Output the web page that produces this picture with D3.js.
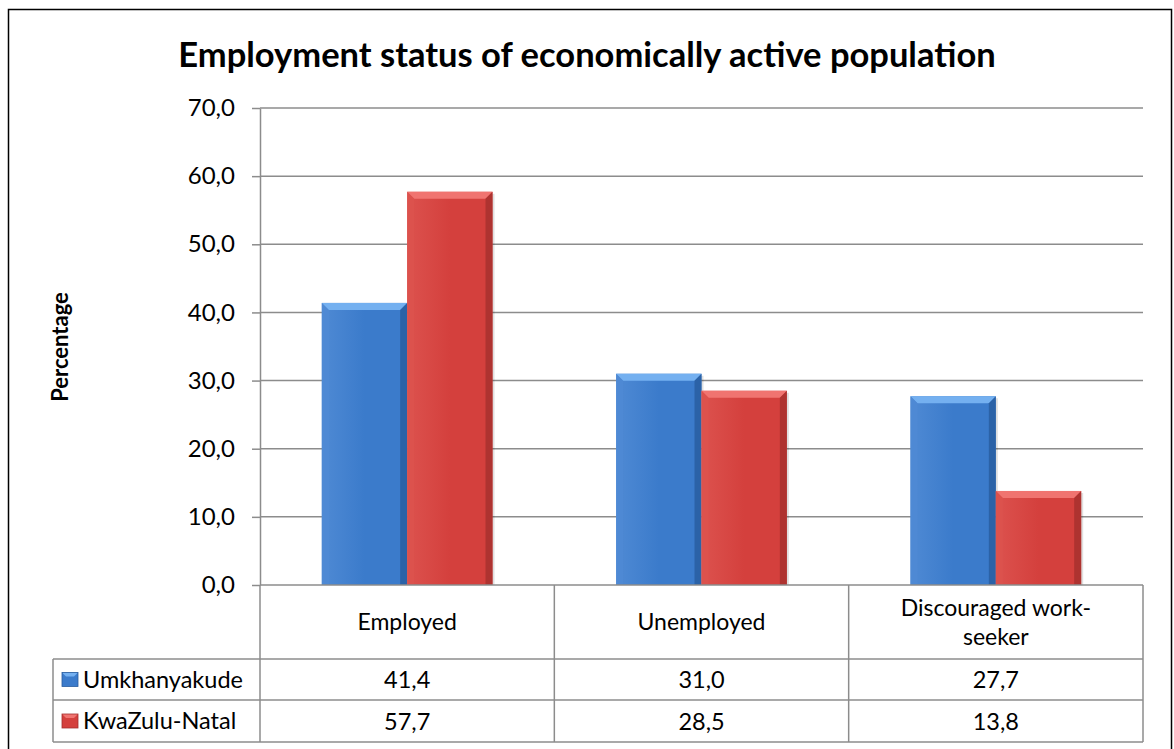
<!DOCTYPE html>
<html>
<head>
<meta charset="utf-8">
<script src="https://cdn.jsdelivr.net/npm/d3@7"></script>
<style>
  body { margin: 0; background: #fff; }
  svg { display: block; font-family: Lato, "Open Sans", sans-serif; }
</style>
</head>
<body>
<div id="chart"></div>
<script>
const categories = ["Employed", "Unemployed", "Discouraged work-seeker"];
const categoryLines = [["Employed"], ["Unemployed"], ["Discouraged work-", "seeker"]];
const seriesNames = ["Umkhanyakude", "KwaZulu-Natal"];
const umkhanyakude = [41.4, 31.0, 27.7];
const kwazuluNatal = [57.7, 28.5, 13.8];
const yTicks = [0, 10, 20, 30, 40, 50, 60, 70];
const titleText = "Employment status of economically active population";
const yAxisTitle = "Percentage";

function initChart() {
  const width = 1174, height = 749;
  const m = { t: 108, r: 31, b: 164, l: 260 };
  const plotBottom = height - m.b;   // 585
  const tableRows = [plotBottom, 659, 700, 742];
  const legendLeft = 53;

  const svg = d3.select("#chart").append("svg")
    .attr("width", width).attr("height", height);

  const defs = svg.append("defs");
  const palette = [
    { main: "#3b7bcb", light: "#74b0f0", dark: "#285c9e", side: "#4f8ad4" },
    { main: "#d4403d", light: "#f07470", dark: "#a42f2d", side: "#dc524e" }
  ];
  palette.forEach((p, i) => {
    const g = defs.append("linearGradient").attr("id", "grad" + i)
      .attr("x1", 0).attr("x2", 1).attr("y1", 0).attr("y2", 0);
    g.append("stop").attr("offset", "0%").attr("stop-color", p.side);
    g.append("stop").attr("offset", "50%").attr("stop-color", p.main);
    g.append("stop").attr("offset", "100%").attr("stop-color", p.main);
  });

  // outer frame
  svg.append("rect")
    .attr("x", 8.5).attr("y", 9.5)
    .attr("width", 1163).attr("height", 760)
    .attr("fill", "none").attr("stroke", "#000").attr("stroke-width", 1.5);

  // title
  svg.append("text")
    .attr("x", 587).attr("y", 67)
    .attr("text-anchor", "middle")
    .attr("font-size", "34.5px").attr("font-weight", "bold")
    .attr("fill", "#000")
    .text(titleText);

  const x0 = d3.scaleBand().domain(categories).range([m.l, width - m.r]);
  const groupW = x0.bandwidth() * 0.58;
  const x1 = d3.scaleBand().domain(seriesNames)
    .range([(x0.bandwidth() - groupW) / 2, (x0.bandwidth() + groupW) / 2]);
  const y = d3.scaleLinear().domain([0, 70]).range([plotBottom, m.t]);

  // gridlines
  svg.append("g").selectAll("line")
    .data(yTicks.filter(d => d > 0))
    .enter().append("line")
    .attr("x1", m.l).attr("x2", width - m.r)
    .attr("y1", d => y(d)).attr("y2", d => y(d))
    .attr("stroke", "#8c8c8c").attr("stroke-width", 1.5);

  // y axis
  const fmt = d => d3.format(".1f")(d).replace(".", ",");
  const yAxis = svg.append("g")
    .attr("transform", `translate(${m.l},0)`)
    .call(d3.axisLeft(y).tickValues(yTicks).tickFormat(fmt).tickSize(8).tickSizeOuter(0));
  yAxis.select(".domain").attr("stroke", "#8c8c8c").attr("stroke-width", 1.5);
  yAxis.selectAll(".tick line").attr("stroke", "#8c8c8c").attr("stroke-width", 1.5);
  yAxis.selectAll(".tick text")
    .attr("x", -25).attr("font-size", "24px").attr("fill", "#000")
    .attr("font-family", "Lato, sans-serif");

  svg.append("text")
    .attr("transform", `translate(68,347) rotate(-90)`)
    .attr("text-anchor", "middle")
    .attr("font-size", "22px").attr("font-weight", "bold")
    .text(yAxisTitle);

  // bars
  const seriesValues = [umkhanyakude, kwazuluNatal];
  const bev = 7;
  const barData = [];
  categories.forEach((c, ci) => {
    seriesNames.forEach((s, si) => {
      barData.push({ c, s, si, v: seriesValues[si][ci] });
    });
  });

  const bars = svg.append("g").selectAll("g.bar")
    .data(barData).enter().append("g").attr("class", "bar");

  bars.append("rect")
    .attr("x", d => x0(d.c) + x1(d.s) + 2)
    .attr("y", d => y(d.v) + 2)
    .attr("width", x1.bandwidth())
    .attr("height", d => plotBottom - y(d.v) - 2)
    .attr("fill", "#000").attr("opacity", 0.12);

  bars.append("rect")
    .attr("x", d => x0(d.c) + x1(d.s))
    .attr("y", d => y(d.v))
    .attr("width", x1.bandwidth())
    .attr("height", d => plotBottom - y(d.v))
    .attr("fill", d => `url(#grad${d.si})`);

  // top bevel
  bars.append("polygon")
    .attr("points", d => {
      const xl = x0(d.c) + x1(d.s), xr = xl + x1.bandwidth(), yt = y(d.v);
      return [[xl, yt], [xr, yt], [xr - bev, yt + bev], [xl + bev, yt + bev]].join(" ");
    })
    .attr("fill", d => palette[d.si].light);

  // right bevel
  bars.append("polygon")
    .attr("points", d => {
      const xl = x0(d.c) + x1(d.s), xr = xl + x1.bandwidth(), yt = y(d.v);
      return [[xr, yt], [xr, plotBottom], [xr - bev, plotBottom], [xr - bev, yt + bev]].join(" ");
    })
    .attr("fill", d => palette[d.si].dark).attr("opacity", 0.8);

  // left bevel
  bars.append("polygon")
    .attr("points", d => {
      const xl = x0(d.c) + x1(d.s), yt = y(d.v);
      return [[xl, yt], [xl + bev, yt + bev], [xl + bev, plotBottom], [xl, plotBottom]].join(" ");
    })
    .attr("fill", d => palette[d.si].side).attr("opacity", 0.9);

  // data table
  const tbl = svg.append("g").attr("stroke", "#8c8c8c").attr("stroke-width", 1.5);
  const tableRight = width - m.r;
  tbl.append("line").attr("x1", m.l).attr("x2", tableRight)
    .attr("y1", tableRows[0]).attr("y2", tableRows[0]);
  tableRows.slice(1).forEach(ry => {
    tbl.append("line").attr("x1", legendLeft).attr("x2", tableRight)
      .attr("y1", ry).attr("y2", ry);
  });
  tbl.append("line").attr("x1", legendLeft).attr("x2", legendLeft)
    .attr("y1", tableRows[1]).attr("y2", tableRows[3]);
  categories.forEach(c => {
    tbl.append("line").attr("x1", x0(c)).attr("x2", x0(c))
      .attr("y1", tableRows[0]).attr("y2", tableRows[3]);
  });
  tbl.append("line").attr("x1", tableRight).attr("x2", tableRight)
    .attr("y1", tableRows[0]).attr("y2", tableRows[3]);

  // category labels
  categories.forEach((c, ci) => {
    const lines = categoryLines[ci];
    const cy = (tableRows[0] + tableRows[1]) / 2;
    const lh = 29;
    lines.forEach((ln, li) => {
      svg.append("text")
        .attr("x", x0(c) + x0.bandwidth() / 2)
        .attr("y", cy + (li - (lines.length - 1) / 2) * lh + 8)
        .attr("text-anchor", "middle")
        .attr("font-size", "23px").attr("fill", "#000")
        .text(ln);
    });
  });

  // series rows
  seriesNames.forEach((s, si) => {
    const ry0 = tableRows[si + 1], ry1 = tableRows[si + 2];
    const cy = (ry0 + ry1) / 2;
    const kg = svg.append("g");
    kg.append("rect")
      .attr("x", 62).attr("y", cy - 7).attr("width", 16).attr("height", 14)
      .attr("fill", palette[si].main);
    kg.append("polygon")
      .attr("points", [[62, cy - 7], [78, cy - 7], [74, cy - 3], [66, cy - 3]].join(" "))
      .attr("fill", palette[si].light);
    kg.append("rect")
      .attr("x", 62).attr("y", cy - 7).attr("width", 16).attr("height", 14)
      .attr("fill", "none").attr("stroke", palette[si].dark).attr("stroke-width", 0.8);
    svg.append("text")
      .attr("x", 83).attr("y", cy + 8)
      .attr("font-size", "23.5px").attr("fill", "#000")
      .text(s);
    categories.forEach((c, ci) => {
      svg.append("text")
        .attr("x", x0(c) + x0.bandwidth() / 2)
        .attr("y", cy + 8.5)
        .attr("text-anchor", "middle")
        .attr("font-size", "23.5px").attr("fill", "#000")
        .text(fmt(seriesValues[si][ci]));
    });
  });
}

initChart();
</script>
</body>
</html>
